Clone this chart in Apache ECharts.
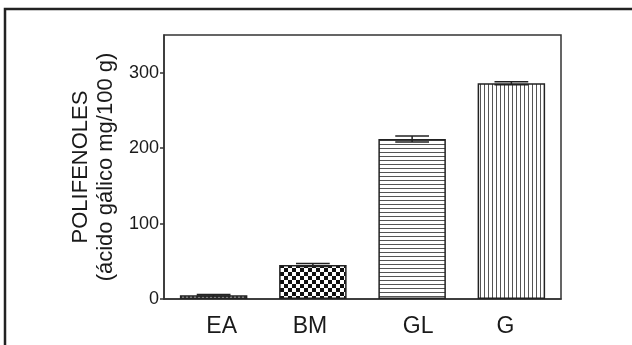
<!DOCTYPE html>
<html>
<head>
<meta charset="utf-8">
<script src="https://cdn.jsdelivr.net/npm/echarts@6/dist/echarts.min.js"></script>
<style>
  html, body { margin: 0; padding: 0; background: #fff; }
  #chart { width: 632px; height: 345px; }
</style>
</head>
<body>
<div id="chart"></div>
<script>
const categories = ['EA', 'BM', 'GL', 'G']
const values = [5, 45, 212, 286]
const errors = [1, 2, 4, 2]
const tickValues = [0, 100, 200, 300]

// fill patterns, one per bar
function makePattern(kind) {
  const c = document.createElement('canvas')
  const ctx = c.getContext('2d')
  if (kind === 'fine') {
    c.width = 4; c.height = 4
    ctx.fillStyle = '#d8d8d8'
    ctx.fillRect(0, 0, 4, 4)
    ctx.fillStyle = '#444'
    ctx.fillRect(0, 0, 2, 2)
    ctx.fillRect(2, 2, 2, 2)
  } else if (kind === 'checker') {
    c.width = 8; c.height = 8
    ctx.fillStyle = '#fff'
    ctx.fillRect(0, 0, 8, 8)
    ctx.fillStyle = '#111'
    ctx.fillRect(0, 0, 4, 4)
    ctx.fillRect(4, 4, 4, 4)
  } else if (kind === 'hlines') {
    c.width = 4; c.height = 4
    ctx.fillStyle = '#fff'
    ctx.fillRect(0, 0, 4, 4)
    ctx.fillStyle = '#555'
    ctx.fillRect(0, 0, 4, 1)
  } else {
    c.width = 4; c.height = 4
    ctx.fillStyle = '#fff'
    ctx.fillRect(0, 0, 4, 4)
    ctx.fillStyle = '#555'
    ctx.fillRect(0, 0, 1, 4)
  }
  return { image: c, repeat: 'repeat' }
}

const patterns = ['fine', 'checker', 'hlines', 'vlines'].map(makePattern)
const font = '"Liberation Sans", Arial, sans-serif'
const ink = '#1a1a1a'

// the labels in the source sit a little off their bar centres
const labelRich = {
  EA: { padding: [0, 0, 0, 16] },
  BM: { padding: [0, 6, 0, 0] },
  GL: { padding: [0, 0, 0, 12] },
  G: { padding: [0, 12, 0, 0] }
}
for (const k in labelRich) {
  Object.assign(labelRich[k], { color: ink, fontSize: 23, fontFamily: font })
}

const chart = echarts.init(document.getElementById('chart'))
chart.setOption({
  backgroundColor: '#fff',
  animation: false,
  graphic: [
    {
      type: 'rect',
      shape: { x: 5, y: 9, width: 660, height: 360 },
      style: { fill: 'none', stroke: '#222', lineWidth: 2.5 },
      silent: true
    }
  ],
  grid: {
    left: 164,
    right: 71,
    top: 35,
    bottom: 46,
    show: true,
    borderColor: '#333',
    borderWidth: 1.5,
    backgroundColor: 'transparent'
  },
  xAxis: {
    type: 'category',
    data: categories,
    axisLine: { lineStyle: { color: '#333', width: 1.5 } },
    axisTick: { show: false },
    axisLabel: {
      interval: 0,
      hideOverlap: false,
      color: ink,
      fontSize: 23,
      fontFamily: font,
      margin: 16,
      formatter: function(v) {
        return '{' + v + '|' + v + '}'
      },
      rich: labelRich
    }
  },
  yAxis: {
    type: 'value',
    min: 0,
    max: 350,
    interval: 100,
    name: 'POLIFENOLES\n(ácido gálico mg/100 g)',
    nameLocation: 'middle',
    nameRotate: 90,
    nameGap: 38,
    nameTextStyle: { color: ink, fontSize: 22, fontFamily: font, lineHeight: 25 },
    splitLine: { show: false },
    axisLine: { show: true, lineStyle: { color: '#333', width: 1.5 } },
    axisTick: { show: true, length: 4, customValues: tickValues, lineStyle: { color: '#333', width: 1.5 } },
    axisLabel: { color: ink, fontSize: 18, fontFamily: font, margin: 5, customValues: tickValues }
  },
  series: [
    {
      type: 'bar',
      barWidth: '68%',
      data: values.map((v, i) => ({
        value: v,
        itemStyle: { color: patterns[i], borderColor: '#222', borderWidth: 1.5 }
      }))
    },
    {
      type: 'custom',
      z: 5,
      data: values.map((v, i) => [i, v, errors[i]]),
      renderItem: function(params, api) {
        const i = api.value(0)
        const v = api.value(1)
        const e = api.value(2)
        const top = api.coord([i, v + e])
        const bot = api.coord([i, v - e])
        const half = api.size([1, 0])[0] * 0.17
        const style = { stroke: '#222', lineWidth: 1.5 }
        return {
          type: 'group',
          children: [
            { type: 'line', shape: { x1: top[0], y1: top[1], x2: bot[0], y2: bot[1] }, style: style },
            { type: 'line', shape: { x1: top[0] - half, y1: top[1], x2: top[0] + half, y2: top[1] }, style: style },
            { type: 'line', shape: { x1: bot[0] - half, y1: bot[1], x2: bot[0] + half, y2: bot[1] }, style: style }
          ]
        }
      }
    }
  ]
})
</script>
</body>
</html>
